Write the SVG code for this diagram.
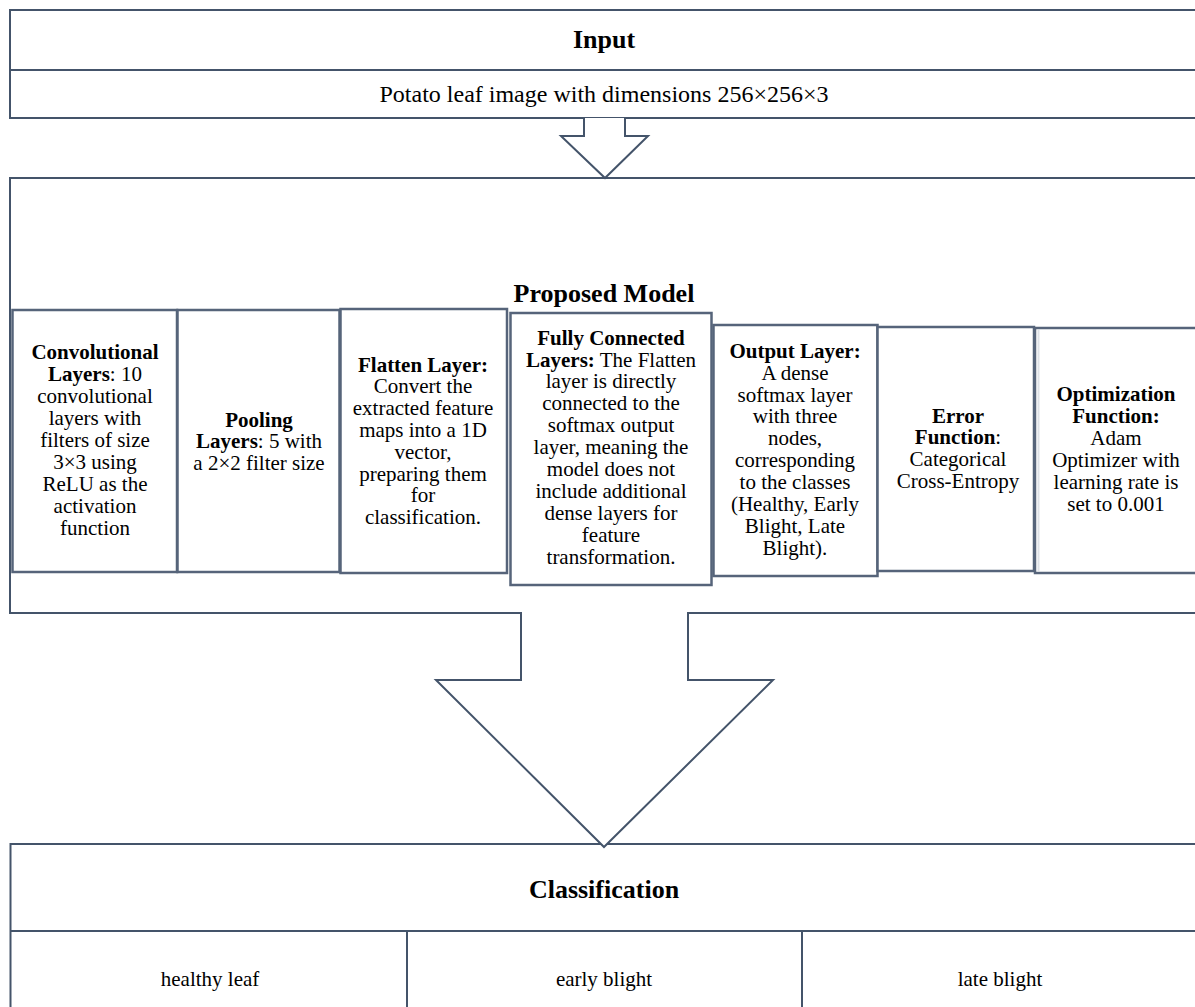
<svg xmlns="http://www.w3.org/2000/svg" width="1195" height="1007" viewBox="0 0 1195 1007">
<style>
text{font-family:"Liberation Serif","Times New Roman",serif;fill:#000;text-anchor:middle}
.t{font-size:21px}
.h{font-size:26px;font-weight:bold}
.in{font-size:24px}
.b{font-weight:bold}
.box{fill:#fff;stroke:#44546a;stroke-width:2}
.ibox{fill:#fff;stroke:#56647a;stroke-width:2.5}
.ln{stroke:#44546a;stroke-width:2;fill:none}
.arr{fill:#fff;stroke:#44546a;stroke-width:2;stroke-linejoin:miter}
</style>
<rect width="1195" height="1007" fill="#fff"/>
<g id="input">
<rect class="box" x="10" y="10" width="1200" height="108"/>
<line class="ln" x1="10" y1="70" x2="1200" y2="70"/>
<text class="h" x="604" y="48">Input</text>
<text class="in" x="604" y="102">Potato leaf image with dimensions 256×256×3</text>
</g>
<g id="proposed-model">
<rect class="box" x="10" y="178" width="1200" height="435"/>
<text class="h" x="604" y="302">Proposed Model</text>
</g>
<g id="conv">
<rect class="ibox" x="12.5" y="310" width="164.5" height="262"/>
<text class="t" x="95" y="359"><tspan class="b">Convolutional</tspan></text>
<text class="t" x="95" y="381"><tspan class="b">Layers</tspan>: 10</text>
<text class="t" x="95" y="403">convolutional</text>
<text class="t" x="95" y="425">layers with</text>
<text class="t" x="95" y="447">filters of size</text>
<text class="t" x="95" y="469">3×3 using</text>
<text class="t" x="95" y="491">ReLU as the</text>
<text class="t" x="95" y="513">activation</text>
<text class="t" x="95" y="535">function</text>
</g>
<g id="pooling">
<rect class="ibox" x="177.5" y="310" width="162" height="262"/>
<text class="t" x="259" y="427"><tspan class="b">Pooling</tspan></text>
<text class="t" x="259" y="448"><tspan class="b">Layers</tspan>: 5 with</text>
<text class="t" x="259" y="470">a 2×2 filter size</text>
</g>
<g id="flatten">
<rect class="ibox" x="340.5" y="309" width="166.5" height="264"/>
<text class="t" x="423" y="372"><tspan class="b">Flatten Layer:</tspan></text>
<text class="t" x="423" y="393">Convert the</text>
<text class="t" x="423" y="415">extracted feature</text>
<text class="t" x="423" y="437">maps into a 1D</text>
<text class="t" x="423" y="459">vector,</text>
<text class="t" x="423" y="481">preparing them</text>
<text class="t" x="423" y="502">for</text>
<text class="t" x="423" y="524">classification.</text>
</g>
<g id="fully-connected">
<rect class="ibox" x="510.5" y="313" width="201" height="272"/>
<text class="t" x="611" y="345"><tspan class="b">Fully Connected</tspan></text>
<text class="t" x="611" y="367"><tspan class="b">Layers:</tspan> The Flatten</text>
<text class="t" x="611" y="388">layer is directly</text>
<text class="t" x="611" y="410">connected to the</text>
<text class="t" x="611" y="432">softmax output</text>
<text class="t" x="611" y="454">layer, meaning the</text>
<text class="t" x="611" y="476">model does not</text>
<text class="t" x="611" y="498">include additional</text>
<text class="t" x="611" y="520">dense layers for</text>
<text class="t" x="611" y="542">feature</text>
<text class="t" x="611" y="564">transformation.</text>
</g>
<g id="output-layer">
<rect class="ibox" x="713.5" y="325" width="164" height="251"/>
<text class="t" x="795" y="358"><tspan class="b">Output Layer:</tspan></text>
<text class="t" x="795" y="380">A dense</text>
<text class="t" x="795" y="402">softmax layer</text>
<text class="t" x="795" y="423">with three</text>
<text class="t" x="795" y="445">nodes,</text>
<text class="t" x="795" y="467">corresponding</text>
<text class="t" x="795" y="489">to the classes</text>
<text class="t" x="795" y="511">(Healthy, Early</text>
<text class="t" x="795" y="533">Blight, Late</text>
<text class="t" x="795" y="555">Blight).</text>
</g>
<g id="error-function">
<rect class="ibox" x="877.5" y="327" width="156.5" height="244"/>
<text class="t" x="958" y="423"><tspan class="b">Error</tspan></text>
<text class="t" x="958" y="444"><tspan class="b">Function</tspan>:</text>
<text class="t" x="958" y="466">Categorical</text>
<text class="t" x="958" y="488">Cross-Entropy</text>
</g>
<g id="optimization-function">
<rect class="ibox" x="1035" y="328" width="170" height="245"/>
<line x1="1038.5" y1="330" x2="1038.5" y2="571" stroke="#dde1e6" stroke-width="2"/>
<text class="t" x="1116" y="401"><tspan class="b">Optimization</tspan></text>
<text class="t" x="1116" y="423"><tspan class="b">Function:</tspan></text>
<text class="t" x="1116" y="445">Adam</text>
<text class="t" x="1116" y="467">Optimizer with</text>
<text class="t" x="1116" y="489">learning rate is</text>
<text class="t" x="1116" y="511">set to 0.001</text>
</g>
<g id="classification">
<rect class="box" x="10.5" y="844" width="1200" height="180"/>
<line class="ln" x1="10" y1="931" x2="1200" y2="931"/>
<text class="h" x="604" y="898">Classification</text>
</g>
<g id="healthy-leaf">
<text class="t" x="210" y="986">healthy leaf</text>
</g>
<g id="early-blight">
<line class="ln" x1="407" y1="931" x2="407" y2="1010"/>
<text class="t" x="604" y="986">early blight</text>
</g>
<g id="late-blight">
<line class="ln" x1="802" y1="931" x2="802" y2="1010"/>
<text class="t" x="1000" y="986">late blight</text>
</g>
<g id="connectors">
<path class="arr" d="M584,118 L584,136 L561,136 L605,178 L648,136 L625,136 L625,118"/>
<path class="arr" d="M521,612 L521,680 L436,680 L604,847 L773,680 L688,680 L688,612"/>
</g>
</svg>
